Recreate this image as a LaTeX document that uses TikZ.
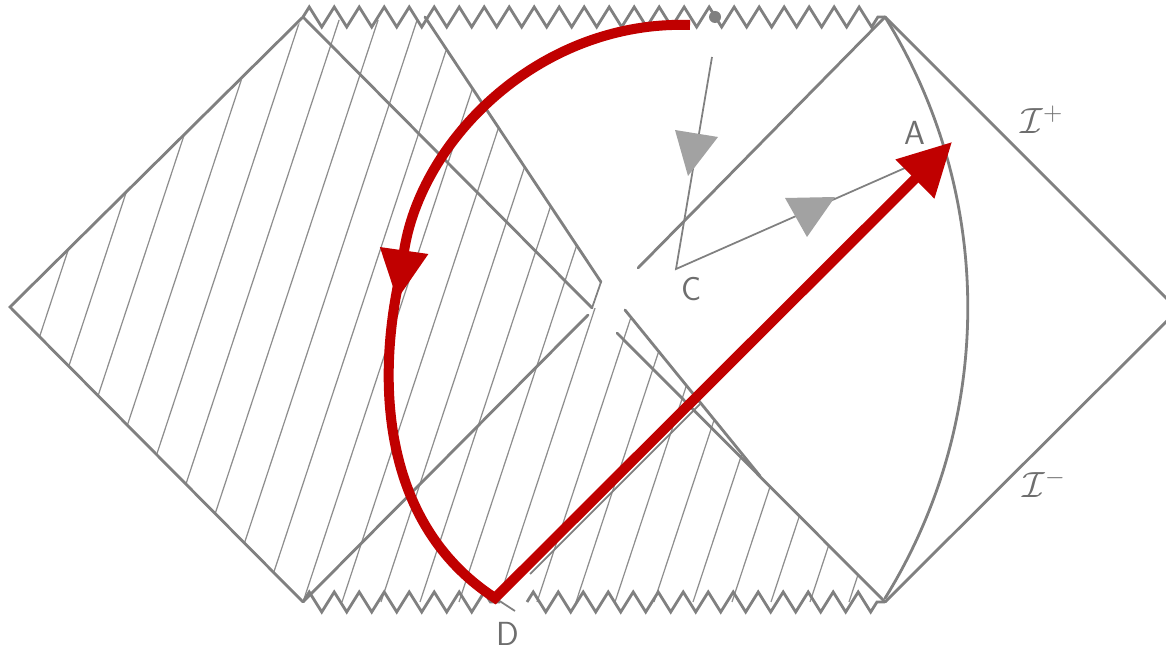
\documentclass[tikz,border=0pt]{standalone}
\usepackage{amsmath,amssymb}
\usepackage{xcolor}
\usepackage{tikz}
\usetikzlibrary{arrows.meta,decorations.pathmorphing}
\definecolor{PenGray}{HTML}{808080}
\definecolor{HatchGray}{HTML}{8E8E8E}
\definecolor{MarkGray}{HTML}{A2A2A2}
\definecolor{LabelGray}{HTML}{6E6E6E}
\definecolor{PathRed}{HTML}{C00000}

\begin{document}
\begin{tikzpicture}[
    x=0.02cm, y=-0.02cm,
    edge/.style={draw=PenGray, line width=1.6pt, line cap=round},
    thinedge/.style={draw=PenGray, line width=1.0pt},
    hatch/.style={draw=HatchGray, line width=0.7pt},
    singular/.style={draw=PenGray, line width=1.6pt, decorate, decoration={zigzag, segment length=0.5cm, amplitude=0.2cm}},
    marker/.style={fill=MarkGray},
    redpath/.style={draw=PathRed, line width=0.2cm, line join=miter},
    redtip/.style={-{Triangle[length=1.0cm, width=0.92cm]}},
    bigtip/.style={-{Triangle[length=1.05cm, width=1.05cm]}},
    lbl/.style={text=LabelGray, inner sep=0pt, font=\fontsize{19}{22}\selectfont\sffamily},
    scri/.style={text=LabelGray, font=\fontsize{22}{26}\selectfont}
  ]
  \useasboundingbox (0,0) rectangle (1166,651);
  \clip (0,0) rectangle (1166,651);

  \coordinate (L) at (10,307);
  \coordinate (R) at (1178,310);
  \coordinate (TL) at (303,17);
  \coordinate (TM) at (425,17);
  \coordinate (TR) at (885,17);
  \coordinate (BL) at (303,602);
  \coordinate (BR) at (885,602);
  \coordinate (X) at (592,308);
  \coordinate (M) at (601,282);
  \coordinate (A) at (952,142);
  \coordinate (C) at (676,269);
  \coordinate (D) at (495,598);
  \coordinate (Ctop) at (712,57);
  \coordinate (Cend) at (905,168);
  \coordinate (redstart) at (690,25);
  \coordinate (redmid) at (397,300);

  \begin{scope}
    \clip (L) -- (303,20) -- (425,20) -- (M) -- (X) -- (625,310) -- (760,476) -- (BR) -- (BL) -- cycle;
    \foreach \k in {-10,...,15}
      \draw[hatch] ({303+39*\k},602) -- ++(198.7,-602);
  \end{scope}

  \draw[edge] (BL) -- (L) -- (TL);
  \draw[singular] (TL) -- (TR);
  \draw[singular] (BL) -- (500,602);
  \draw[singular] (527,602) -- (BR);
  \fill[PenGray] (715,17) circle (6);

  \draw[edge] (TL) -- (X);
  \draw[edge] (TM) -- (M);
  \draw[thinedge] (M) -- (X);
  \draw[edge] (BL) -- (588,315);
  \draw[edge] (617,333) -- (BR);
  \draw[edge] (625,310) -- (760,476);
  \draw[edge] (638,268) -- (TR);
  \draw[edge] (TR) -- (R) -- (BR);
  \draw[edge] (TR) arc[start angle=-31.8, end angle=31.8, radius=551.6];

  \draw[thinedge] (Ctop) -- (C) -- (Cend);
  \fill[marker] (675,130) -- (718,137) -- (688,176) -- cycle;
  \fill[marker] (785,198) -- (835,197) -- (807,237) -- cycle;
  \draw[thinedge] (530,574) -- (700,404);
  \draw[thinedge] (D) -- (515,611);

  \draw[redpath, redtip] (redstart) .. controls (540,20) and (420,140) .. (redmid);
  \draw[redpath, bigtip] (398,285) .. controls (375,400) and (390,530) .. (D) -- (A);

  \node[lbl] (labA) at (915,133) {A};
  \node[lbl] (labC) at (692,289) {C};
  \node[lbl] (labD) at (508,634) {D};
  \node[scri] (scriplus) at (1042,120) {$\mathcal{I}^{+}$};
  \node[scri] (scriminus) at (1044,484) {$\mathcal{I}^{-}$};
\end{tikzpicture}
\end{document}
